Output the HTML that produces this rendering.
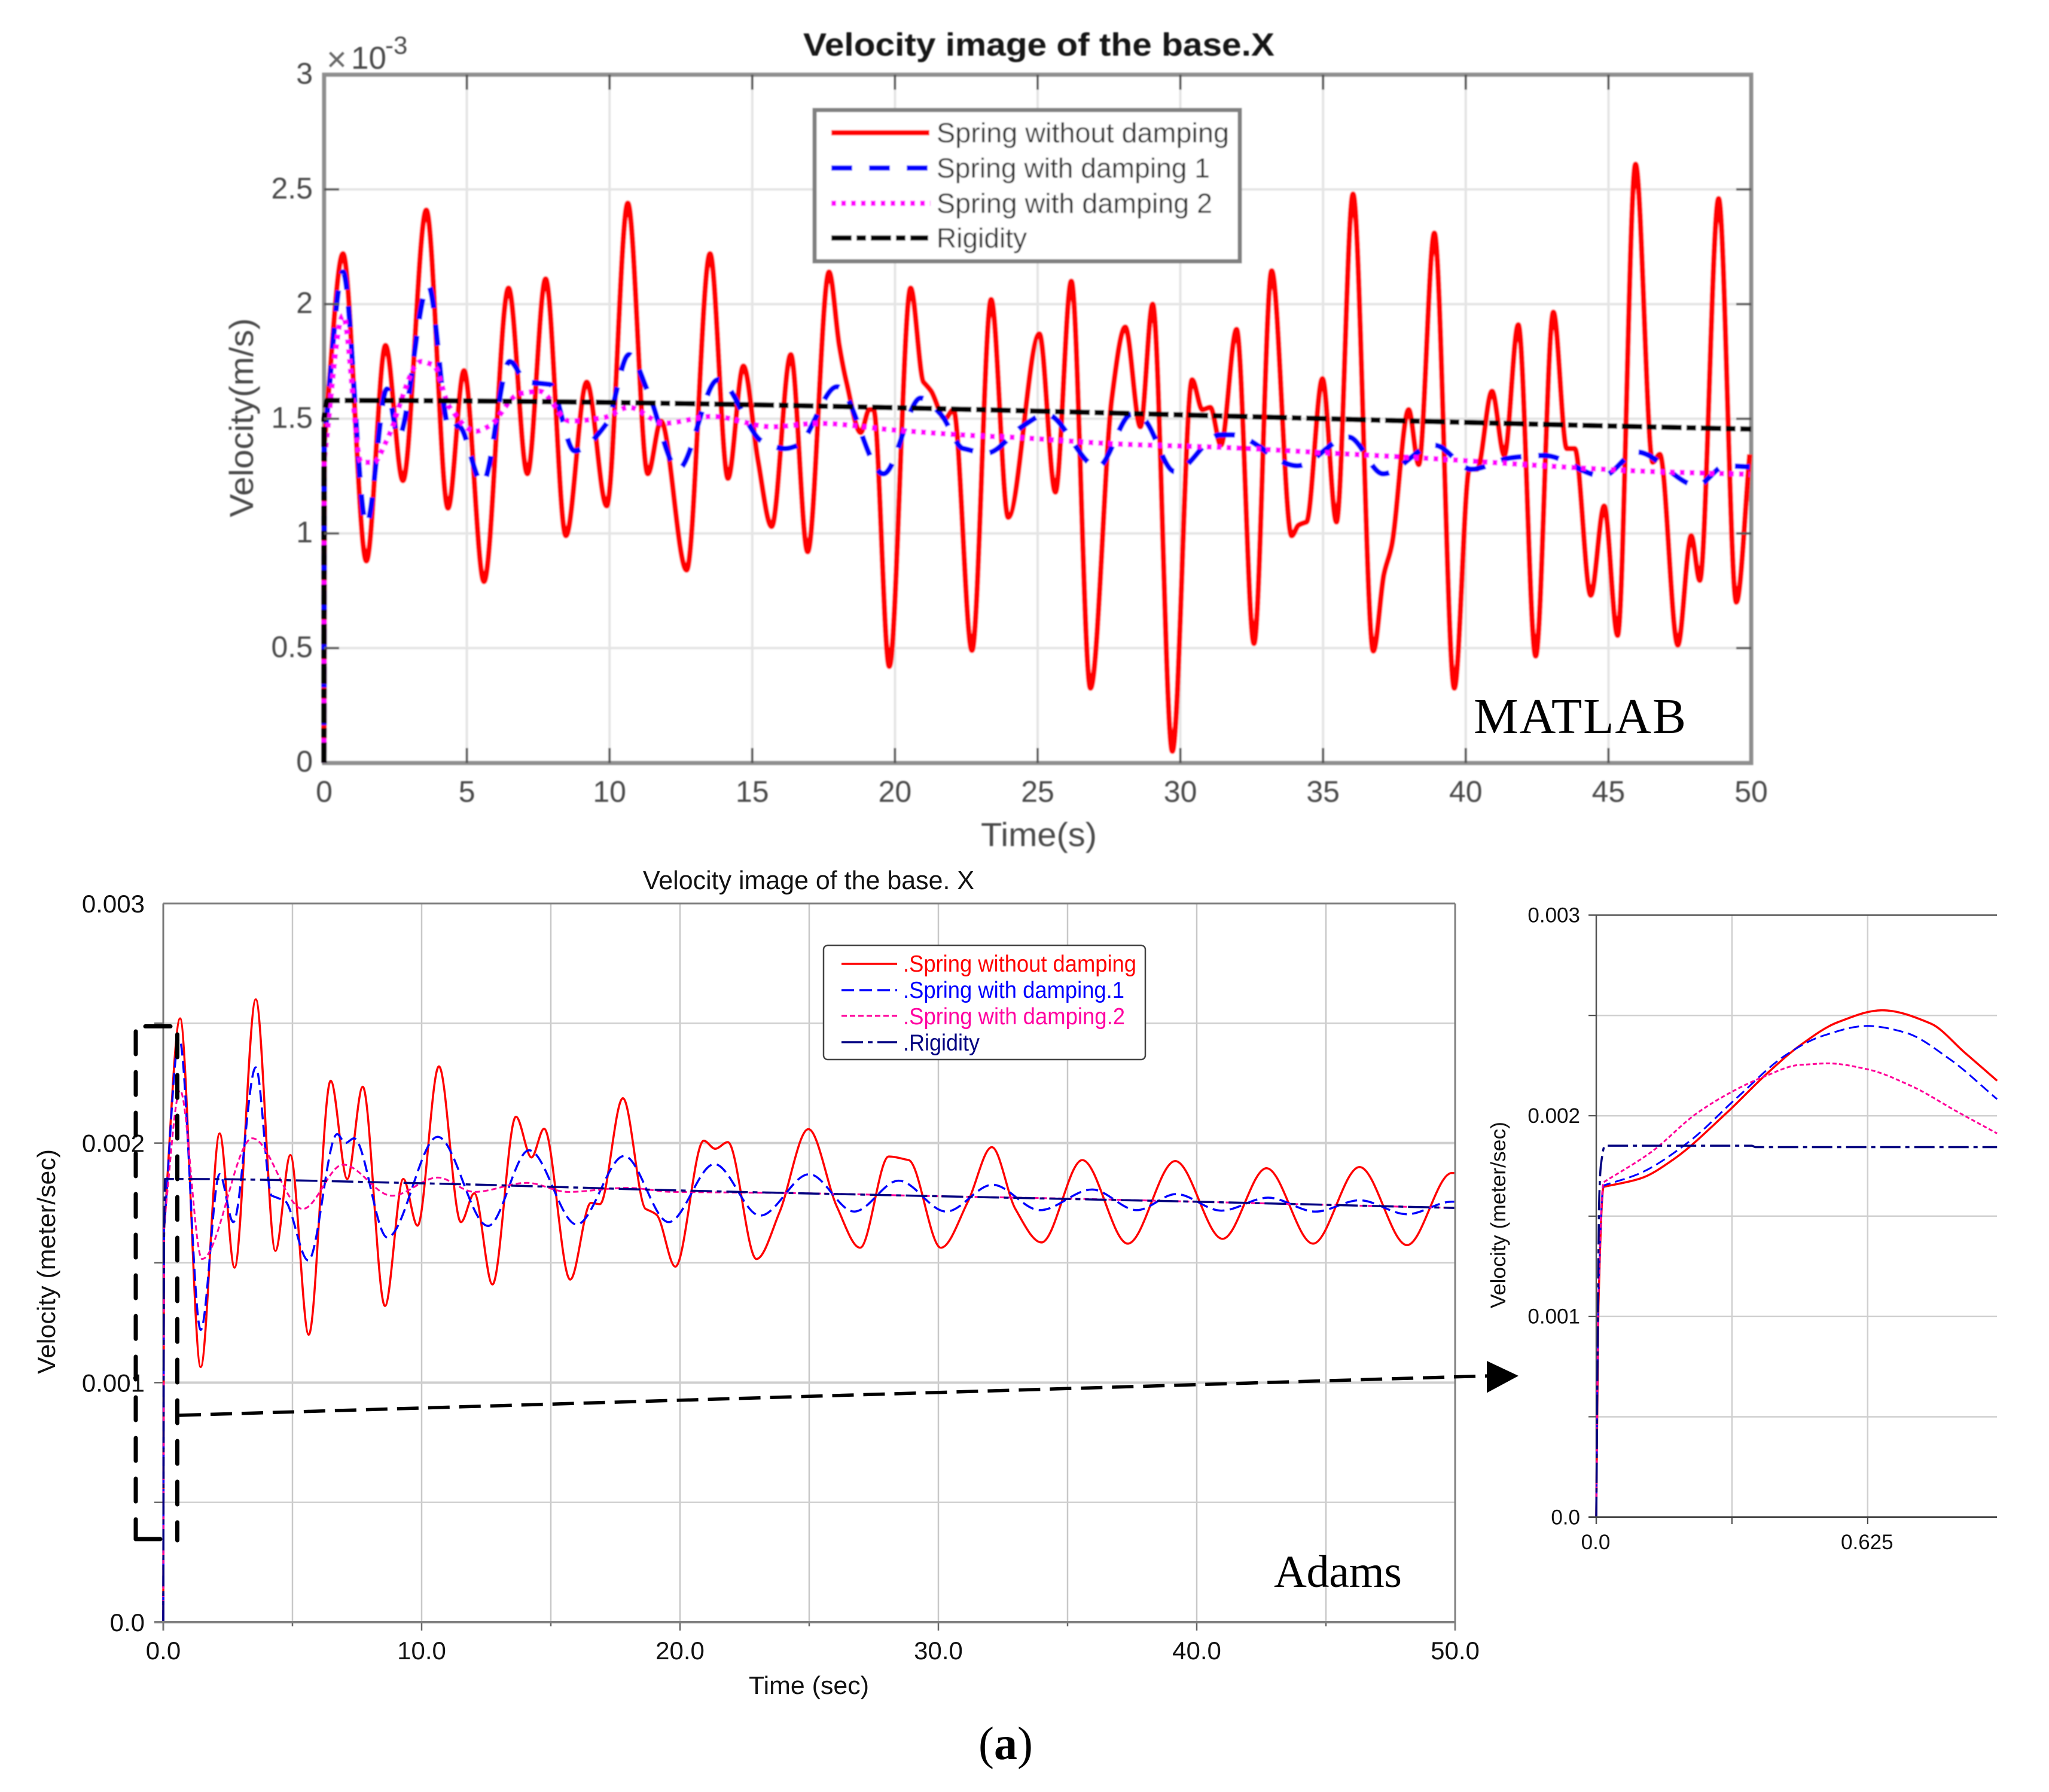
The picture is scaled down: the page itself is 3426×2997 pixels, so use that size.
<!DOCTYPE html>
<html lang="en">
<head>
<meta charset="utf-8">
<title>Velocity image of the base.X</title>
<style>
html,body{margin:0;padding:0;background:#fff;}
svg{display:block;}
text{font-family:"Liberation Sans",Arial,sans-serif;}
.serif{font-family:"Liberation Serif","Times New Roman",serif;}
</style>
</head>
<body>
<svg id="figure" xmlns="http://www.w3.org/2000/svg" width="3426" height="2997" viewBox="0 0 3426 2997">
  <defs>
    <filter id="soft" x="-5%" y="-5%" width="110%" height="110%"><feGaussianBlur stdDeviation="1.1"/></filter>
  </defs>
  <rect width="3426" height="2997" fill="#fff"/>

  <g id="matlab" filter="url(#soft)">
    <rect x="542" y="125" width="2386" height="1151" fill="#fff"/>
    <g id="m-grid"></g>
    <rect x="542" y="125" width="2386" height="1151" fill="none" stroke="#8e8e8e" stroke-width="7"/>
    <g id="m-series"></g>
    <g id="m-ticks"></g>
    <text x="1343" y="93" font-size="54" font-weight="bold" fill="#141414" textLength="788" lengthAdjust="spacingAndGlyphs">Velocity image of the base.X</text>
    <text x="546" y="119" font-size="58" fill="#666">×</text>
    <text x="587" y="115" font-size="53" fill="#4a4a4a">10</text>
    <text x="644" y="90" font-size="42" fill="#4a4a4a">-3</text>
    <text transform="translate(423,865) rotate(-90)" font-size="56" fill="#4a4a4a" textLength="333" lengthAdjust="spacingAndGlyphs">Velocity(m/s)</text>
    <text x="1640" y="1415" font-size="56" fill="#4a4a4a" textLength="194" lengthAdjust="spacingAndGlyphs">Time(s)</text>

    <g>
      <rect x="1362" y="184" width="711" height="253" fill="#fff" stroke="#808080" stroke-width="7"/>
      <line x1="1390" y1="222" x2="1554" y2="222" stroke="#ff0000" stroke-width="9"/>
      <text x="1566" y="238" font-size="46" fill="#2e2e2e" textLength="489" lengthAdjust="spacingAndGlyphs">Spring without damping</text>
      <line x1="1390" y1="281" x2="1554" y2="281" stroke="#0000ff" stroke-width="9" stroke-dasharray="35 28"/>
      <text x="1566" y="297" font-size="46" fill="#2e2e2e" textLength="457" lengthAdjust="spacingAndGlyphs">Spring with damping 1</text>
      <line x1="1390" y1="340" x2="1556" y2="340" stroke="#ff00ff" stroke-width="9" stroke-dasharray="8 8.5"/>
      <text x="1566" y="356" font-size="46" fill="#2e2e2e" textLength="461" lengthAdjust="spacingAndGlyphs">Spring with damping 2</text>
      <line x1="1390" y1="398" x2="1552" y2="398" stroke="#000" stroke-width="9" stroke-dasharray="34 8 16 8"/>
      <text x="1566" y="414" font-size="46" fill="#2e2e2e" textLength="151" lengthAdjust="spacingAndGlyphs">Rigidity</text>
    </g>
  </g>
  <text class="serif" x="2464" y="1226" font-size="84" fill="#000" textLength="355">MATLAB</text>

  <g id="adams">
    <g id="a-grid"></g>
    <g id="a-series"></g>
    <line x1="273" y1="1511" x2="2433" y2="1511" stroke="#808080" stroke-width="3"/>
    <line x1="2433" y1="1511" x2="2433" y2="2727" stroke="#808080" stroke-width="3"/>
    <line x1="258" y1="2713" x2="2433" y2="2713" stroke="#808080" stroke-width="4"/>
    <text x="1075" y="1487" font-size="44" fill="#111" textLength="554" lengthAdjust="spacingAndGlyphs">Velocity image of the base. X</text>
    <text transform="translate(92,2298) rotate(-90)" font-size="42" fill="#111" textLength="376" lengthAdjust="spacingAndGlyphs">Velocity (meter/sec)</text>
    <text x="1252" y="2833" font-size="42" fill="#111" textLength="201" lengthAdjust="spacingAndGlyphs">Time (sec)</text>
    <g>
      <rect x="1377" y="1581" width="538" height="191" rx="7" fill="#fff" stroke="#444" stroke-width="2.5"/>
      <line x1="1407" y1="1612" x2="1500" y2="1612" stroke="#ff0000" stroke-width="3.5"/>
      <text x="1510" y="1625" font-size="39" fill="#ff0000" textLength="390" lengthAdjust="spacingAndGlyphs">.Spring without damping</text>
      <line x1="1407" y1="1656" x2="1500" y2="1656" stroke="#0000ff" stroke-width="3.5" stroke-dasharray="21 9"/>
      <text x="1510" y="1669" font-size="39" fill="#0000ff" textLength="370" lengthAdjust="spacingAndGlyphs">.Spring with damping.1</text>
      <line x1="1407" y1="1699" x2="1500" y2="1699" stroke="#ff0099" stroke-width="3" stroke-dasharray="9 5"/>
      <text x="1510" y="1713" font-size="39" fill="#ff00a0" textLength="371" lengthAdjust="spacingAndGlyphs">.Spring with damping.2</text>
      <line x1="1407" y1="1743" x2="1500" y2="1743" stroke="#000080" stroke-width="3.5" stroke-dasharray="36 8 8 8"/>
      <text x="1510" y="1757" font-size="39" fill="#000080" textLength="128" lengthAdjust="spacingAndGlyphs">.Rigidity</text>
    </g>
    <text class="serif" x="2130" y="2654" font-size="76" fill="#000" textLength="214">Adams</text>
  </g>

  <g id="inset">
    <g id="i-grid"></g>
    <g id="i-series"></g>
    <line x1="2656" y1="1530.5" x2="3339" y2="1530.5" stroke="#555" stroke-width="2.5"/>
    <line x1="2656" y1="2537.5" x2="3339" y2="2537.5" stroke="#444" stroke-width="3"/>
    <text transform="translate(2517,2188) rotate(-90)" font-size="35" fill="#111" textLength="312" lengthAdjust="spacingAndGlyphs">Velocity (meter/sec)</text>
  </g>

  <g fill="none" stroke="#000">
    <line x1="227" y1="1725" x2="227" y2="2574" stroke-width="7" stroke-linecap="round" stroke-dasharray="38 30"/>
    <line x1="243" y1="1716.5" x2="285" y2="1716.5" stroke-width="7" stroke-linecap="round"/>
    <line x1="296.5" y1="1730" x2="296.5" y2="2576" stroke-width="7" stroke-linecap="round" stroke-dasharray="38 30"/>
    <line x1="227" y1="2574" x2="268" y2="2574" stroke-width="7" stroke-linecap="round"/>
    <line x1="300" y1="2367" x2="2490" y2="2301" stroke-width="5.5" stroke-dasharray="36 16"/>
  </g>
  <polygon points="2486,2276 2539,2301 2486,2329.5" fill="#000"/>

  <text class="serif" x="1636" y="2942" font-size="78" fill="#000">(<tspan font-weight="bold">a</tspan>)</text>

<script>
// ---- MATLAB chart data (velocity in units of 10^-3 m/s) ----
var matlabXTicks = [0, 5, 10, 15, 20, 25, 30, 35, 40, 45, 50];
var matlabXLabels = ['0', '5', '10', '15', '20', '25', '30', '35', '40', '45', '50'];
var matlabYTicks = [0, 0.5, 1, 1.5, 2, 2.5, 3];
var matlabYLabels = ['0', '0.5', '1', '1.5', '2', '2.5', '3'];

var matlabRedT = [0,0.01,0.66,1.48,2.15,2.76,3.58,4.34,4.9,5.6,6.46,7.12,7.76,8.47,9.2,9.9,10.64,11.34,11.8,12.7,13.52,14.15,14.69,15.2,15.68,16.35,16.94,17.69,18.05,18.3,18.8,19.1,19.25,19.8,20.55,21.0,21.27,21.75,22.05,22.7,23.37,23.97,25.06,25.62,26.18,26.85,27.6,28.07,28.6,29.03,29.72,30.41,30.77,31.05,31.42,31.97,32.58,33.2,33.9,34.14,34.42,34.98,35.47,36.05,36.76,37.13,37.41,38.0,38.35,38.9,39.6,40.13,40.4,40.92,41.35,41.84,42.45,43.07,43.54,43.82,44.38,44.85,45.32,45.95,46.55,46.8,47.43,47.9,48.2,48.86,49.48,49.95];
var matlabRedV = [0,1.4,2.22,0.88,1.82,1.23,2.41,1.11,1.71,0.79,2.07,1.26,2.11,0.99,1.66,1.12,2.44,1.26,1.49,0.84,2.22,1.24,1.73,1.32,1.03,1.78,0.92,2.14,1.82,1.66,1.44,1.54,1.54,0.42,2.07,1.66,1.62,1.5,1.54,0.49,2.02,1.07,1.87,1.18,2.1,0.325,1.59,1.9,1.465,2.0,0.05,1.67,1.54,1.55,1.385,1.89,0.52,2.145,0.99,1.036,1.05,1.675,1.05,2.48,0.487,0.82,0.95,1.54,1.3,2.31,0.325,1.28,1.28,1.62,1.34,1.91,0.465,1.965,1.37,1.37,0.73,1.12,0.555,2.61,1.31,1.345,0.513,0.99,0.795,2.46,0.7,1.345];

var matlabBlueT = [0,0.01,0.66,1.48,2.2,2.6,3.65,4.4,4.7,5.55,6.5,7.1,7.9,8.77,9.9,10.68,11.37,12.4,13.8,15.36,16.15,16.6,17.97,19.6,20.9,21.6,22.4,23.2,24.5,25.3,27.1,28.3,28.7,29.8,31.4,31.8,34.1,35.9,37.1,38.9,40.2,41.6,42.75,44.8,46.0,48.1,49.1,49.95];
var matlabBlueV = [0,1.4,2.14,1.04,1.63,1.42,2.08,1.45,1.47,1.22,1.75,1.66,1.65,1.36,1.48,1.78,1.61,1.28,1.67,1.4,1.37,1.385,1.64,1.26,1.59,1.52,1.37,1.35,1.47,1.52,1.29,1.52,1.5,1.27,1.43,1.43,1.295,1.42,1.26,1.385,1.28,1.33,1.34,1.25,1.355,1.21,1.295,1.29];

var matlabMagentaT = [0,0.01,0.66,1.3,1.74,2.17,3.4,3.82,4.4,5.3,5.8,6.86,7.55,8.6,9.8,10.68,11.9,13.6,15.7,17.3,20.05,23,24,27.8,31.5,35.3,39,42.75,46.5,49.95];
var matlabMagentaV = [0,1.33,1.95,1.31,1.31,1.4,1.75,1.735,1.55,1.445,1.47,1.61,1.62,1.49,1.505,1.55,1.48,1.51,1.465,1.48,1.45,1.425,1.42,1.39,1.375,1.35,1.325,1.295,1.27,1.258];

var matlabRigidT = [0,0.005,0.1,50];
var matlabRigidV = [0,1.5,1.58,1.455];

// ---- Adams chart data (velocity in units of 10^-3 m/s) ----
var adamsXTicks = [0, 5, 10, 15, 20, 25, 30, 35, 40, 45, 50];
var adamsXLabels = ['0.0', '', '10.0', '', '20.0', '', '30.0', '', '40.0', '', '50.0'];
var adamsYTicks = [0, 0.5, 1, 1.5, 2, 2.5, 3];
var adamsYLabels = ['0.0', '', '0.001', '', '0.002', '', '0.003'];

var adamsRedT = [0,0.03,0.65,1.45,2.18,2.76,3.58,4.34,4.92,5.63,6.48,7.12,7.72,8.58,9.29,9.84,10.67,11.52,12.04,12.74,13.65,14.25,14.74,15.75,16.55,16.9,17.79,18.67,19.1,19.82,20.92,21.36,21.85,22.96,23.86,24.97,26.07,26.97,28.08,28.85,30.1,31.15,32.07,32.98,33.99,35.57,37.33,39.17,41.0,42.7,44.5,46.3,48.14,49.87,50];
var adamsRedV = [0,1.64,2.52,1.065,2.04,1.48,2.6,1.55,1.95,1.2,2.26,1.85,2.235,1.32,1.85,1.655,2.32,1.67,1.79,1.41,2.11,1.94,2.06,1.43,1.75,1.745,2.187,1.725,1.7,1.484,2.01,1.976,2.004,1.516,1.714,2.058,1.735,1.563,1.944,1.929,1.563,1.757,1.983,1.725,1.585,1.929,1.58,1.925,1.6,1.895,1.58,1.9,1.574,1.875,1.875];

var adamsBlueT = [0,0.03,0.62,1.45,2.18,2.71,3.58,4.2,4.69,5.61,6.73,7.05,7.38,8.67,10.62,12.57,14.16,16.0,17.84,19.56,21.33,23.1,25.0,26.74,28.46,30.3,32.1,33.93,35.95,37.68,39.2,40.95,42.76,44.6,46.3,48.14,49.87,50];
var adamsBlueV = [0,1.64,2.435,1.22,1.87,1.67,2.316,1.78,1.76,1.51,2.037,2.0,2.02,1.606,2.026,1.654,1.97,1.66,1.946,1.67,1.912,1.697,1.87,1.714,1.843,1.714,1.826,1.72,1.806,1.72,1.787,1.718,1.772,1.714,1.761,1.703,1.755,1.755];

var adamsMagentaT = [0,0.03,0.65,1.5,3.45,5.4,6.96,8.85,10.62,12.04,14.07,15.66,17.96,19.73,25,30,35,40,45,50];
var adamsMagentaV = [0,1.66,2.22,1.516,2.02,1.725,1.91,1.78,1.856,1.796,1.834,1.796,1.813,1.796,1.79,1.778,1.768,1.755,1.742,1.729];

var adamsRigidT = [0,0.03,0.07,0.6,10,20,30,40,50];
var adamsRigidV = [0,1.6,1.85,1.85,1.832,1.802,1.778,1.755,1.729];

// ---- Inset chart data (velocity in units of 10^-3 m/s) ----
var insetXTicks = [0, 0.3125, 0.625];
var insetXLabels = ['0.0', '', '0.625'];
var insetYTicks = [0, 0.5, 1, 1.5, 2, 2.5, 3];
var insetYLabels = ['0.0', '', '0.001', '', '0.002', '', '0.003'];

var insetRedT = [0,0.005,0.017,0.101,0.178,0.298,0.393,0.47,0.556,0.658,0.77,0.847,0.923];
var insetRedV = [0,1.05,1.646,1.687,1.783,2.01,2.21,2.352,2.466,2.526,2.46,2.318,2.175];
var insetBlueT = [0,0.005,0.017,0.101,0.213,0.324,0.436,0.521,0.624,0.71,0.813,0.923];
var insetBlueV = [0,1.1,1.653,1.714,1.87,2.09,2.302,2.398,2.448,2.416,2.284,2.083];
var insetMagentaT = [0,0.005,0.017,0.127,0.23,0.316,0.384,0.47,0.534,0.624,0.727,0.83,0.923];
var insetMagentaV = [0,1.1,1.669,1.82,2.01,2.124,2.193,2.254,2.261,2.232,2.147,2.022,1.912];
var insetRigidT = [0,0.007,0.011,0.02,0.358,0.367,0.923];
var insetRigidV = [0,1.6,1.76,1.851,1.851,1.844,1.844];

// ---- Axis geometry and helpers ----
var SVGNS = 'http://www.w3.org/2000/svg';
function scale(d0, d1, r0, r1) {
  return function (v) { return r0 + (v - d0) / (d1 - d0) * (r1 - r0); };
}
function node(parent, tag, attrs, txt) {
  var el = document.createElementNS(SVGNS, tag);
  for (var k in attrs) { el.setAttribute(k, attrs[k]); }
  if (txt !== undefined) { el.textContent = txt; }
  parent.appendChild(el);
  return el;
}
// Smooth monotone cubic through data points: extrema stay flat, no overshoot.
function smoothPath(ts, vs, sx, sy) {
  var n = ts.length, xs = [], ys = [], d = [], m = [], i;
  for (i = 0; i < n; i++) { xs.push(sx(ts[i])); ys.push(sy(vs[i])); }
  for (i = 0; i < n - 1; i++) { d.push((ys[i + 1] - ys[i]) / (xs[i + 1] - xs[i])); }
  m.push(d[0]);
  for (i = 1; i < n - 1; i++) {
    if (d[i - 1] * d[i] <= 0) { m.push(0); }
    else {
      var big = Math.max(Math.abs(d[i - 1]), Math.abs(d[i]));
      var small = Math.min(Math.abs(d[i - 1]), Math.abs(d[i]));
      if (big > small * 6) { m.push(d[i] > 0 ? small : -small); }
      else { m.push(2 * d[i - 1] * d[i] / (d[i - 1] + d[i])); }
    }
  }
  m.push(d[n - 2]);
  var s = 'M' + xs[0].toFixed(1) + ' ' + ys[0].toFixed(1);
  for (i = 0; i < n - 1; i++) {
    var h = (xs[i + 1] - xs[i]) / 3;
    s += 'C' + (xs[i] + h).toFixed(1) + ' ' + (ys[i] + m[i] * h).toFixed(1) + ' ' +
         (xs[i + 1] - h).toFixed(1) + ' ' + (ys[i + 1] - m[i + 1] * h).toFixed(1) + ' ' +
         xs[i + 1].toFixed(1) + ' ' + ys[i + 1].toFixed(1);
  }
  return s;
}
function drawSeries(parent, ts, vs, sx, sy, color, width, dash, name) {
  var p = node(parent, 'path', {
    d: smoothPath(ts, vs, sx, sy), fill: 'none', stroke: color,
    'stroke-width': width, 'stroke-linejoin': 'round'
  });
  if (dash) { p.setAttribute('stroke-dasharray', dash); }
  
  
  return p;
}

// ---- MATLAB chart ----
var mx = scale(0, 50, 542, 2928);
var my = scale(0, 3, 1275.7, 125);
var mGrid = document.getElementById('m-grid');
var mTicks = document.getElementById('m-ticks');
var mSeries = document.getElementById('m-series');
matlabXTicks.forEach(function (t, i) {
  var x = mx(t);
  if (i > 0 && i < matlabXTicks.length - 1) {
    var g = node(mGrid, 'line', { x1: x, y1: 125, x2: x, y2: 1276, stroke: '#e4e4e4', 'stroke-width': 4 });
    
    
    var a = node(mTicks, 'line', { x1: x, y1: 1276, x2: x, y2: 1251, stroke: '#555', 'stroke-width': 4 });
    
    
    var b = node(mTicks, 'line', { x1: x, y1: 125, x2: x, y2: 150, stroke: '#555', 'stroke-width': 4 });
    
    
  }
  var l = node(mTicks, 'text', { x: x, y: 1341, 'font-size': 50, fill: '#4a4a4a', 'text-anchor': 'middle' }, matlabXLabels[i]);
  
  
});
matlabYTicks.forEach(function (v, i) {
  var y = my(v);
  if (i > 0 && i < matlabYTicks.length - 1) {
    var g = node(mGrid, 'line', { x1: 542, y1: y, x2: 2928, y2: y, stroke: '#e4e4e4', 'stroke-width': 4 });
    
    
    var a = node(mTicks, 'line', { x1: 542, y1: y, x2: 567, y2: y, stroke: '#555', 'stroke-width': 4 });
    
    
    var b = node(mTicks, 'line', { x1: 2928, y1: y, x2: 2903, y2: y, stroke: '#555', 'stroke-width': 4 });
    
    
  }
  var l = node(mTicks, 'text', { x: 523, y: y + 15, 'font-size': 50, fill: '#4a4a4a', 'text-anchor': 'end' }, matlabYLabels[i]);
  
  
});
drawSeries(mSeries, matlabRedT, matlabRedV, mx, my, '#ff0000', 9, '', 'matlab-line-spring-without-damping');
drawSeries(mSeries, matlabBlueT, matlabBlueV, mx, my, '#0000ff', 9, '35 28', 'matlab-line-spring-with-damping-1');
drawSeries(mSeries, matlabMagentaT, matlabMagentaV, mx, my, '#ff00ff', 9, '8 8.5', 'matlab-line-spring-with-damping-2');
drawSeries(mSeries, matlabRigidT, matlabRigidV, mx, my, '#000000', 9, '34 8 16 8', 'matlab-line-rigidity');

// ---- Adams chart ----
var ax = scale(0, 50, 273, 2433);
var ay = scale(0, 3, 2713, 1511);
var aGrid = document.getElementById('a-grid');
var aSeries = document.getElementById('a-series');
adamsXTicks.forEach(function (t, i) {
  var x = ax(t);
  if (i < adamsXTicks.length - 1 && i > 0) {
    var g = node(aGrid, 'line', { x1: x, y1: 1511, x2: x, y2: 2713, stroke: '#c8c8c8', 'stroke-width': 2.5 });
    
    
  }
  var k = node(aGrid, 'line', { x1: x, y1: 2713, x2: x, y2: adamsXLabels[i] ? 2727 : 2720, stroke: '#666', 'stroke-width': 2.5 });
  
  
  if (adamsXLabels[i]) {
    var l = node(aGrid, 'text', { x: x, y: 2775, 'font-size': 42, fill: '#111', 'text-anchor': 'middle' }, adamsXLabels[i]);
    
    
  }
});
adamsYTicks.forEach(function (v, i) {
  var y = ay(v);
  if (i > 0 && i < adamsYTicks.length - 1) {
    var g = node(aGrid, 'line', { x1: 273, y1: y, x2: 2433, y2: y, stroke: '#cfcfcf', 'stroke-width': adamsYLabels[i] ? 4 : 2.5 });
    
    
    var k = node(aGrid, 'line', { x1: 258, y1: y, x2: 273, y2: y, stroke: '#666', 'stroke-width': 2.5 });
    
    
  }
  if (adamsYLabels[i]) {
    var l = node(aGrid, 'text', { x: 242, y: y + 15, 'font-size': 42, fill: '#111', 'text-anchor': 'end' }, adamsYLabels[i]);
    
    
  }
});
var aAxis = node(aGrid, 'line', { x1: 273, y1: 1511, x2: 273, y2: 2727, stroke: '#777', 'stroke-width': 3 });


drawSeries(aSeries, adamsRedT, adamsRedV, ax, ay, '#ff0000', 3.5, '', 'adams-line-spring-without-damping');
drawSeries(aSeries, adamsBlueT, adamsBlueV, ax, ay, '#0000ff', 3.5, '20 9', 'adams-line-spring-with-damping-1');
drawSeries(aSeries, adamsMagentaT, adamsMagentaV, ax, ay, '#ff0099', 3, '9 5', 'adams-line-spring-with-damping-2');
drawSeries(aSeries, adamsRigidT, adamsRigidV, ax, ay, '#000080', 3.5, '36 8 8 8', 'adams-line-rigidity');

// ---- Inset chart ----
var ix = scale(0, 0.625, 2669, 3122.8);
var iy = scale(0, 3, 2537.3, 1530.5);
var iGrid = document.getElementById('i-grid');
var iSeries = document.getElementById('i-series');
insetXTicks.forEach(function (t, i) {
  var x = ix(t);
  if (i > 0) {
    var g = node(iGrid, 'line', { x1: x, y1: 1530, x2: x, y2: 2537, stroke: '#cfcfcf', 'stroke-width': 2.5 });
    
    
  }
  var k = node(iGrid, 'line', { x1: x, y1: 2537, x2: x, y2: 2549, stroke: '#444', 'stroke-width': 2 });
  
  
  if (insetXLabels[i]) {
    var l = node(iGrid, 'text', { x: x - 1, y: 2591, 'font-size': 35, fill: '#111', 'text-anchor': 'middle' }, insetXLabels[i]);
    
    
  }
});
insetYTicks.forEach(function (v, i) {
  var y = iy(v);
  if (i > 0 && i < insetYTicks.length - 1) {
    var g = node(iGrid, 'line', { x1: 2669, y1: y, x2: 3339, y2: y, stroke: '#cfcfcf', 'stroke-width': 2.5 });
    
    
    var k = node(iGrid, 'line', { x1: 2656, y1: y, x2: 2669, y2: y, stroke: '#444', 'stroke-width': 2 });
    
    
  }
  if (insetYLabels[i]) {
    var l = node(iGrid, 'text', { x: 2642, y: y + 12, 'font-size': 35, fill: '#111', 'text-anchor': 'end' }, insetYLabels[i]);
    
    
  }
});
var iAxis = node(iGrid, 'line', { x1: 2669, y1: 1530, x2: 2669, y2: 2549, stroke: '#555', 'stroke-width': 2.5 });


drawSeries(iSeries, insetRedT, insetRedV, ix, iy, '#ff0000', 3.5, '', 'inset-line-spring-without-damping');
drawSeries(iSeries, insetBlueT, insetBlueV, ix, iy, '#0000ff', 3, '17 8', 'inset-line-spring-with-damping-1');
drawSeries(iSeries, insetMagentaT, insetMagentaV, ix, iy, '#ff0099', 3, '7 4', 'inset-line-spring-with-damping-2');
drawSeries(iSeries, insetRigidT, insetRigidV, ix, iy, '#000080', 3.5, '34 8 7 8', 'inset-line-rigidity');
</script>
</svg>
</body>
</html>
